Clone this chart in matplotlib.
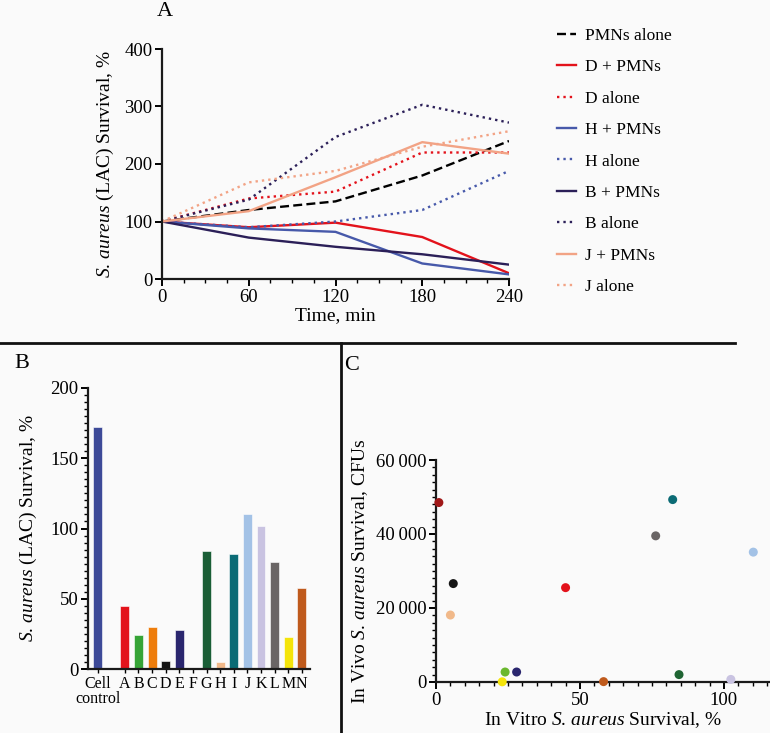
import matplotlib
matplotlib.use("Agg")
import matplotlib.pyplot as plt
from matplotlib.lines import Line2D
from matplotlib.ticker import MultipleLocator, FuncFormatter

plt.rcParams['font.family'] = ['Liberation Serif', 'DejaVu Serif']
plt.rcParams['mathtext.fontset'] = 'custom'
plt.rcParams['mathtext.rm'] = 'Liberation Serif'
plt.rcParams['mathtext.it'] = 'Liberation Serif:italic'

# Panel A: time course
times = [0, 60, 120, 180, 240]
pmns_alone = [100, 120, 135, 180, 240]
d_pmns = [100, 90, 98, 73, 10]
d_alone = [100, 140, 152, 220, 220]
h_pmns = [100, 88, 82, 27, 8]
h_alone = [100, 90, 100, 120, 188]
b_pmns = [100, 72, 56, 43, 25]
b_alone = [100, 138, 247, 303, 272]
j_pmns = [100, 118, 177, 238, 218]
j_alone = [100, 168, 188, 230, 257]

# Panel B: in vitro survival
bar_labels = ['Cell\ncontrol', 'A', 'B', 'C', 'D', 'E', 'F', 'G', 'H', 'I', 'J', 'K', 'L', 'M', 'N']
bar_values = [172, 45, 24, 30, 6, 28, 1, 84, 5, 82, 110, 102, 76, 23, 58]
bar_colors = ['#3d4a98', '#e3121b', '#36a436', '#ee7d0b', '#151515', '#2a266e', '#a01818',
              '#1a5e36', '#f1b98a', '#0b6b75', '#a3c2e6', '#c9c3e1', '#6a6565', '#f4e40a', '#bf5a1c']

# Panel C: in vitro vs in vivo
sc_names = ['A', 'B', 'D', 'E', 'F', 'G', 'H', 'I', 'J', 'K', 'L', 'M', 'N']
in_vitro = [45, 24, 6, 28, 1, 84.4, 5, 82.2, 110.2, 102.4, 76.3, 23, 58.2]
in_vivo = [25500, 2700, 26600, 2700, 48500, 2000, 18100, 49300, 35100, 700, 39500, 50, 100]
sc_colors = ['#e3121b', '#6ab82e', '#151515', '#2a266e', '#a01818', '#1f6432', '#f1b98a',
             '#0b6b75', '#a3c2e6', '#c9c3e1', '#6a6565', '#f4e40a', '#bf5a1c']

W, H = 770, 733
fig = plt.figure(figsize=(W / 100, H / 100), dpi=100, facecolor='#fafafa')

SA = r'$\it{S.\,aureus}$'


def box(l, t, r, b):
    return [l / W, 1 - b / H, (r - l) / W, (b - t) / H]


def style(ax):
    ax.set_facecolor('#fafafa')
    for s in ['top', 'right']:
        ax.spines[s].set_visible(False)
    for s in ['left', 'bottom']:
        ax.spines[s].set_linewidth(1.6)
        ax.spines[s].set_color('#1a1a1a')
    ax.tick_params(which='major', direction='out', length=5, width=1.4, labelsize=13.5, pad=2)
    ax.tick_params(which='minor', direction='out', length=3, width=1.0)


# ---- A
axA = fig.add_axes(box(162, 49, 509, 279))
style(axA)
lw = 1.7
dot = (0, (1, 1.7))
axA.plot(times, pmns_alone, color='black', lw=lw, dashes=(3.8, 1.8), label='PMNs alone')
axA.plot(times, d_pmns, color='#e3121b', lw=lw, label='D + PMNs')
axA.plot(times, d_alone, color='#e3121b', lw=lw, ls=dot, label='D alone')
axA.plot(times, h_pmns, color='#4759aa', lw=lw, label='H + PMNs')
axA.plot(times, h_alone, color='#4759aa', lw=lw, ls=dot, label='H alone')
axA.plot(times, b_pmns, color='#2b1f58', lw=lw, label='B + PMNs')
axA.plot(times, b_alone, color='#2b1f58', lw=lw, ls=dot, label='B alone')
axA.plot(times, j_pmns, color='#f2a385', lw=lw, label='J + PMNs')
axA.plot(times, j_alone, color='#f2a385', lw=lw, ls=dot, label='J alone')
axA.set_xlim(0, 240)
axA.set_ylim(0, 400)
axA.set_xticks(times)
axA.xaxis.set_minor_locator(MultipleLocator(15))
axA.set_yticks([0, 100, 200, 300, 400])
axA.set_xlabel('Time, min', fontsize=14, labelpad=1)
axA.set_ylabel(SA + ' (LAC) Survival, %', fontsize=14, labelpad=6)
leg = axA.legend(loc='upper left', bbox_to_anchor=(541 / W, 1 - 12 / H), bbox_transform=fig.transFigure,
                 frameon=False, fontsize=12.5, handlelength=1.1, handletextpad=0.55, labelspacing=0.88)

# ---- B
axB = fig.add_axes(box(88, 388, 310, 669))
style(axB)
posB = [0] + list(range(2, 16))
axB.bar(posB, bar_values, width=0.66, color=bar_colors, edgecolor='white', linewidth=0.4)
axB.set_xlim(-0.71, 15.6)
axB.set_ylim(0, 200)
axB.set_yticks([0, 50, 100, 150, 200])
axB.yaxis.set_minor_locator(MultipleLocator(5))
axB.set_xticks(posB)
axB.set_xticklabels(bar_labels, fontsize=11.5, linespacing=0.95)
axB.tick_params(axis='x', length=3, width=1.0, pad=2)
axB.set_ylabel(SA + ' (LAC) Survival, %', fontsize=14, labelpad=8)

# ---- C
axC = fig.add_axes(box(436, 460, 770, 682))
style(axC)
axC.scatter(in_vitro, in_vivo, s=42, c=sc_colors, clip_on=False, zorder=3, linewidths=0)
axC.set_xlim(0, 116)
axC.set_ylim(0, 60000)
axC.set_xticks([0, 50, 100])
axC.xaxis.set_minor_locator(MultipleLocator(5))
axC.set_yticks([0, 20000, 40000, 60000])
axC.yaxis.set_minor_locator(MultipleLocator(2000))
axC.yaxis.set_major_formatter(FuncFormatter(
    lambda v, p: '0' if v == 0 else f'{int(v):,}'.replace(',', '\u2009')))
axC.set_xlabel('In Vitro ' + SA + ' Survival, %', fontsize=14, labelpad=1)
axC.set_ylabel('In Vivo ' + SA + ' Survival, CFUs', fontsize=14, labelpad=4)

# dividers and panel letters
fig.add_artist(Line2D([0, 735 / W], [1 - 343 / H] * 2, color='#111111', lw=2))
fig.add_artist(Line2D([341 / W] * 2, [0, 1 - 343 / H], color='#111111', lw=2))
fig.text(165 / W, 1 - 12 / H, 'A', fontsize=16, ha='center', va='center')
fig.text(22 / W, 1 - 364 / H, 'B', fontsize=16, ha='center', va='center')
fig.text(352 / W, 1 - 366 / H, 'C', fontsize=16, ha='center', va='center')

fig.savefig('out.png', dpi=100, facecolor=fig.get_facecolor())
